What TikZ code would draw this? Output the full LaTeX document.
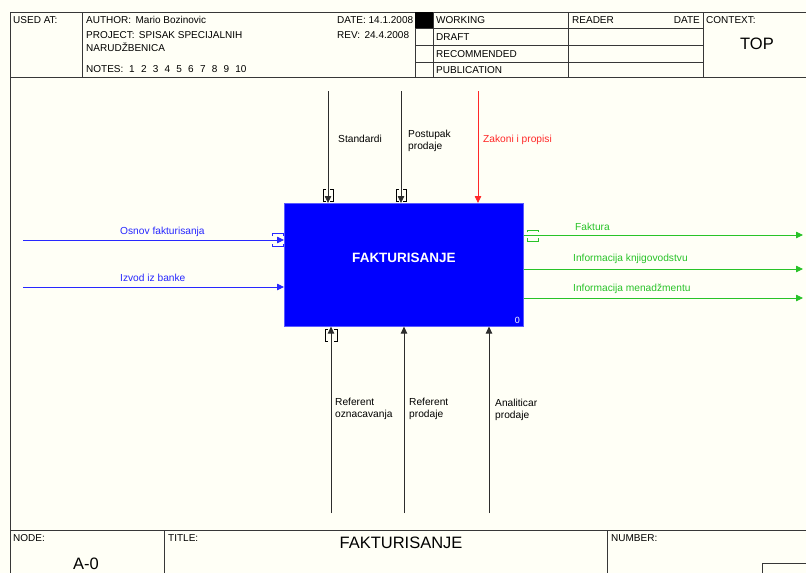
\documentclass[tikz,border=0pt]{standalone}
\usepackage{fontspec}
\setmainfont{Liberation Sans}
\usetikzlibrary{arrows.meta}
\definecolor{paper}{RGB}{255,255,246}
\definecolor{frame}{RGB}{55,55,55}
\definecolor{inblue}{RGB}{40,40,255}
\definecolor{boxblue}{RGB}{0,0,255}
\definecolor{outgreen}{RGB}{40,195,40}
\definecolor{ctlred}{RGB}{255,40,40}
\definecolor{flowgray}{RGB}{45,45,45}

\begin{document}
\begin{tikzpicture}[x=1pt,y=-1pt,
  txt/.style={font=\fontsize{10}{12}\selectfont, inner sep=0pt, anchor=west},
  lbl/.style={font=\fontsize{10.2}{12.5}\selectfont, inner sep=0pt, anchor=west, align=left},
  bigtxt/.style={font=\fontsize{16.5}{18}\selectfont, inner sep=0pt},
  rule/.style={draw=frame, line width=0.8pt},
  flow/.style={line width=0.8pt, -{Triangle[length=7pt,width=6.5pt]}},
  vtun/.pic={\draw[line width=0.9pt] (-2,-14) -- (-5,-14) -- (-5,-2) -- (-2,-2)
                                       (2,-14) -- (5,-14) -- (5,-2) -- (2,-2);},
  btun/.pic={\draw[line width=0.9pt] (-3,3) -- (-6,3) -- (-6,15) -- (-3,15)
                                       (3,3) -- (6,3) -- (6,15) -- (3,15);},
  ltun/.pic={\draw[line width=0.9pt] (-12,-4) -- (-12,-7) -- (-1,-7) -- (-1,-4)
                                       (-12,4) -- (-12,6) -- (-1,6) -- (-1,4);},
  rtun/.pic={\draw[line width=0.9pt] (4,-3) -- (4,-5) -- (15,-5) -- (15,-3)
                                       (4,3) -- (4,6) -- (15,6) -- (15,3);},
]
\fill[paper] (0,0) rectangle (806,573);
\useasboundingbox (0,0) rectangle (806,573);

% ---- header frame ----
\draw[rule] (806,12) -- (10,12) -- (10,573);
\draw[rule] (10,77) -- (806,77);
\draw[rule] (82,12) -- (82,77);
\draw[rule] (415,12) -- (415,77);
\draw[rule] (433,12) -- (433,77);
\draw[rule] (568,12) -- (568,77);
\draw[rule] (703,12) -- (703,77);
\foreach \yy in {28,45,62} \draw[rule] (415,\yy) -- (703,\yy);
\fill[black] (415,12) rectangle (433,28);

\node[txt] (usedat) at (13,20) {USED AT:};
\node[txt] (author) at (86,20) {AUTHOR:\, Mario Bozinovic};
\node[txt] (project) at (86,35) {PROJECT:\, SPISAK SPECIJALNIH};
\node[txt] (project2) at (86,47) {NARUDŽBENICA};
\node[txt] (notes) at (86,69) {NOTES:};
\foreach \n in {1,...,10}
  \node[txt] (note\n) at ({129+11.8*(\n-1)},69) {\n};
\node[txt] (date) at (337,20) {DATE: 14.1.2008};
\node[txt] (rev) at (337,35) {REV:\, 24.4.2008};
\node[txt] (working) at (436,20) {WORKING};
\node[txt] (draft) at (436,37) {DRAFT};
\node[txt] (recommended) at (436,54) {RECOMMENDED};
\node[txt] (publication) at (436,70) {PUBLICATION};
\node[txt] (reader) at (572,20) {READER};
\node[txt, anchor=east] (readerdate) at (700,20) {DATE};
\node[txt] (context) at (706,20) {CONTEXT:};
\node[bigtxt] (top) at (757,44) {TOP};

% ---- footer frame ----
\draw[rule] (10,530) -- (806,530);
\draw[rule] (164,530) -- (164,573);
\draw[rule] (607,530) -- (607,573);
\draw[rule] (762,573) -- (762,563) -- (806,563);
\node[txt] (nodelbl) at (13,538) {NODE:};
\node[txt] (titlelbl) at (168,538) {TITLE:};
\node[txt] (numberlbl) at (611,538) {NUMBER:};
\node[bigtxt] (title) at (401,543) {FAKTURISANJE};
\node[bigtxt] (nodeid) at (86,564) {A-0};

% ---- activity box ----
\node[fill=boxblue, draw={rgb,255:red,90;green,90;blue,255}, line width=0.6pt,
      minimum width=239, minimum height=123, inner sep=0pt, anchor=north west]
      (act) at (284,203) {};
\node[font=\bfseries\fontsize{13.5}{15}\selectfont, text=white, inner sep=0pt]
      (actname) at (404,258) {FAKTURISANJE};
\node[font=\fontsize{9}{10}\selectfont, text=white, inner sep=0pt, anchor=south east]
      (actnum) at (520,324) {0};

% ---- controls ----
\coordinate (c1) at (328,91);
\coordinate (c2) at (401,91);
\coordinate (c3) at (478,91);
\draw[flow, flowgray] (c1) -- (c1 |- act.north);
\draw[flow, flowgray] (c2) -- (c2 |- act.north);
\draw[flow, ctlred] (c3) -- (c3 |- act.north);
\pic[black] at (c1 |- act.north) {vtun};
\pic[black] at (c2 |- act.north) {vtun};
\node[lbl] (standardi) at (338,139) {Standardi};
\node[lbl] (postupak) at (408,141) {Postupak\\prodaje};
\node[lbl, text=ctlred] (zakoni) at (483,140) {Zakoni i propisi};

% ---- mechanisms ----
\coordinate (m1) at (331,513);
\coordinate (m2) at (404,513);
\coordinate (m3) at (489,513);
\draw[flow, flowgray] (m1) -- (m1 |- act.south);
\draw[flow, flowgray] (m2) -- (m2 |- act.south);
\draw[flow, flowgray] (m3) -- (m3 |- act.south);
\pic[black] at (m1 |- act.south) {btun};
\node[lbl] (refozn) at (335,409) {Referent\\oznacavanja};
\node[lbl] (refprod) at (409,409) {Referent\\prodaje};
\node[lbl] (analit) at (495,410) {Analiticar\\prodaje};

% ---- inputs ----
\coordinate (i1) at (23,240);
\coordinate (i2) at (23,287);
\draw[flow, inblue] (i1) -- (i1 -| act.west);
\draw[flow, inblue] (i2) -- (i2 -| act.west);
\pic[inblue] at (i1 -| act.west) {ltun};
\node[lbl, text=inblue] (osnov) at (120,232) {Osnov fakturisanja};
\node[lbl, text=inblue] (izvod) at (120,278) {Izvod iz banke};

% ---- outputs ----
\coordinate (o1) at (803,235);
\coordinate (o2) at (803,269);
\coordinate (o3) at (803,298);
\draw[flow, outgreen] (o1 -| act.east) -- (o1);
\draw[flow, outgreen] (o2 -| act.east) -- (o2);
\draw[flow, outgreen] (o3 -| act.east) -- (o3);
\pic[outgreen] at (o1 -| act.east) {rtun};
\node[lbl, text=outgreen] (faktura) at (575,227) {Faktura};
\node[lbl, text=outgreen] (infoknj) at (573,259) {Informacija knjigovodstvu};
\node[lbl, text=outgreen] (infomen) at (573,289) {Informacija menadžmentu};
\end{tikzpicture}
\end{document}
